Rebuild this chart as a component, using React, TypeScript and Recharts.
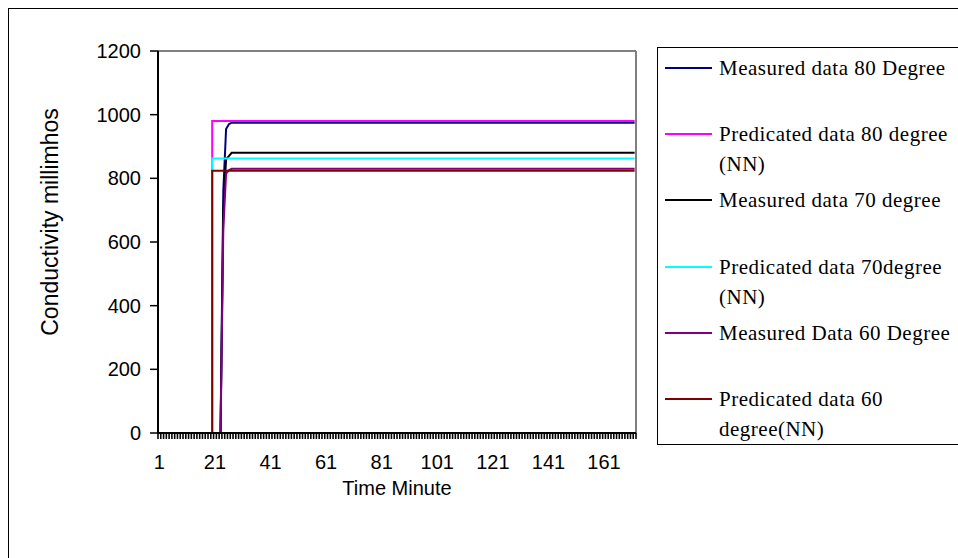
import { LineChart, Line, XAxis, YAxis, ReferenceLine } from "recharts"

// time axis: 172 one-minute categories, labels every 20
const minuteCount = 172
const xTickLabels = [1, 21, 41, 61, 81, 101, 121, 141, 161]
const yTicks = [0, 200, 400, 600, 800, 1000, 1200]

// predicted (NN) curves step straight up at minute 20
const predictedMinutes = [1, 20, 20, 172]
const predicted80 = [0, 0, 980, 980]
const predicted70 = [0, 0, 862, 862]
const predicted60 = [0, 0, 824, 824]

// measured curves rise from minute 23 and settle by minute 27
const measuredMinutes = [1, 23, 24, 25, 26, 27, 172]
const measured80 = [0, 0, 760, 955, 970, 975, 975]
const measured70 = [0, 0, 700, 860, 870, 880, 880]
const measured60 = [0, 0, 640, 815, 825, 830, 830]

const seriesNames = [
  "Measured data 80 Degree",
  "Predicated data 80 degree\n(NN)",
  "Measured data 70 degree",
  "Predicated data 70degree\n(NN)",
  "Measured Data 60 Degree",
  "Predicated data 60\ndegree(NN)",
]
const seriesColors = ["#000080", "#ff00ff", "#000000", "#00ffff", "#800080", "#800000"]

const toPoints = (minutes: number[], values: number[]) =>
  minutes.map((m, i) => ({ minute: m, value: values[i] }))

const series = [
  toPoints(measuredMinutes, measured80),
  toPoints(predictedMinutes, predicted80),
  toPoints(measuredMinutes, measured70),
  toPoints(predictedMinutes, predicted70),
  toPoints(measuredMinutes, measured60),
  toPoints(predictedMinutes, predicted60),
]

// tick marks sit on the category boundaries
const boundaryTicks = Array.from({ length: minuteCount + 1 }, (_, i) => i + 0.5)

const sans = "'Liberation Sans', Arial, sans-serif"
const serif = "'Liberation Serif', 'Times New Roman', serif"

const YLabel = (props: any) => {
  const vb = props.viewBox
  const cx = vb.x - 28
  const cy = vb.y + vb.height / 2 - 20
  return (
    <text
      x={cx}
      y={cy}
      transform={`rotate(-90 ${cx} ${cy})`}
      textAnchor="middle"
      dominantBaseline="central"
      fontSize={23}
      fontFamily={sans}
      fill="#000"
    >
      Conductivity millimhos
    </text>
  )
}

function LegendBox() {
  return (
    <div
      style={{
        position: "absolute",
        left: 657,
        top: 47,
        width: 320,
        height: 396,
        border: "1.5px solid #000",
        fontFamily: serif,
        fontSize: 21,
        letterSpacing: 0.5,
        color: "#000",
      }}
    >
      {seriesNames.map((name, i) => (
        <div
          key={name}
          style={{ position: "absolute", left: 7, top: 5 + i * 66.2, display: "flex" }}
        >
          <div style={{ width: 47, height: 2, background: seriesColors[i], marginTop: 14 }} />
          <div style={{ marginLeft: 7, lineHeight: "30px", whiteSpace: "pre" }}>{name}</div>
        </div>
      ))}
    </div>
  )
}

export default function App() {
  return (
    <div
      style={{
        position: "absolute",
        left: 0,
        top: 0,
        width: 958,
        height: 558,
        overflow: "hidden",
        background: "#fff",
      }}
    >
      <div
        style={{
          position: "absolute",
          left: 8,
          top: 8,
          width: 980,
          height: 580,
          borderLeft: "1.5px solid #000",
          borderTop: "1.5px solid #000",
        }}
      />
      <div style={{ position: "absolute", left: 0, top: 0 }}>
        <LineChart
          width={958}
          height={558}
          margin={{ top: 51, right: 322, left: 78, bottom: 59 }}
        >
          {/* "a" sorts first, so it sits right against the plot */}
          <XAxis
            xAxisId="a"
            type="number"
            dataKey="minute"
            domain={[0.5, minuteCount + 0.5]}
            allowDataOverflow
            ticks={boundaryTicks}
            interval={0}
            tickFormatter={() => ""}
            tickSize={6}
            tickMargin={0}
            height={6}
            axisLine={{ stroke: "#000", strokeWidth: 2 }}
            tickLine={{ stroke: "#000", strokeWidth: 1.6 }}
          />
          <XAxis
            xAxisId="b"
            type="number"
            dataKey="minute"
            domain={[0.5, minuteCount + 0.5]}
            allowDataOverflow
            ticks={xTickLabels}
            interval={0}
            height={60}
            axisLine={false}
            tickLine={false}
            tickSize={0}
            tickMargin={16}
            tick={{ fontSize: 20, fill: "#000", fontFamily: sans }}
            label={{
              value: "Time Minute",
              position: "insideTop",
              offset: 42,
              fontSize: 20,
              fill: "#000",
              fontFamily: sans,
            }}
          />
          <YAxis
            type="number"
            domain={[0, 1200]}
            ticks={yTicks}
            interval={0}
            width={80}
            tickSize={8}
            tickMargin={9}
            axisLine={{ stroke: "#000", strokeWidth: 2 }}
            tickLine={{ stroke: "#000", strokeWidth: 1.5 }}
            tick={{ fontSize: 20, fill: "#000", fontFamily: sans }}
            label={<YLabel />}
          />
          <ReferenceLine y={1200} xAxisId="a" stroke="#808080" strokeWidth={2} />
          <ReferenceLine x={minuteCount + 0.5} xAxisId="a" stroke="#808080" strokeWidth={2} />
          {series.map((data, i) => (
            <Line
              key={seriesNames[i]}
              xAxisId="a"
              data={data}
              dataKey="value"
              type="linear"
              stroke={seriesColors[i]}
              strokeWidth={2}
              dot={false}
              activeDot={false}
              isAnimationActive={false}
            />
          ))}
        </LineChart>
      </div>
      <LegendBox />
    </div>
  )
}
